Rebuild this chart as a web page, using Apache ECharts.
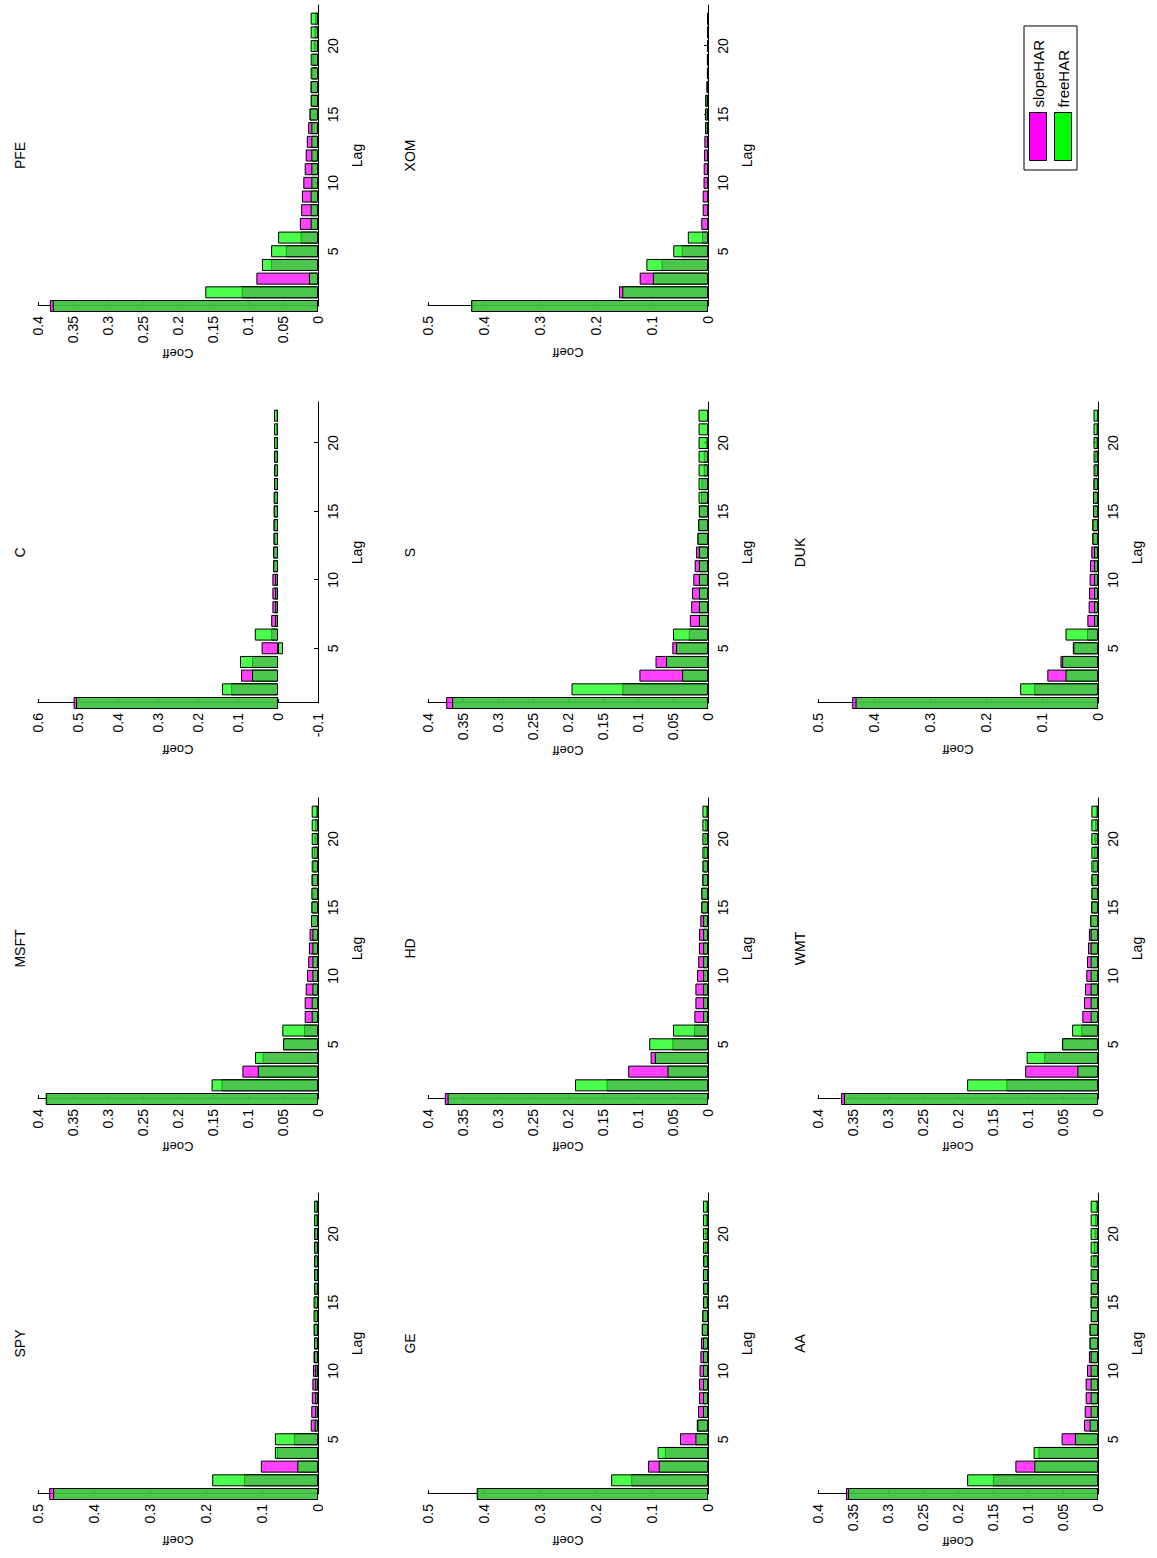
<!DOCTYPE html>
<html>
<head>
<meta charset="utf-8">
<script src="https://cdn.jsdelivr.net/npm/echarts@6/dist/echarts.min.js"></script>
<style>
html,body{margin:0;padding:0;background:#fff;overflow:hidden;width:1157px;height:1558px;}
#chart{position:absolute;left:0;top:0;width:1558px;height:1157px;transform-origin:0 0;transform:translate(0,1558px) rotate(-90deg);background:#fff;}
</style>
</head>
<body>
<div id="chart"></div>
<script>
// ---------------- data ----------------
const lagTicks = [5, 10, 15, 20];
const panelNames = ['SPY', 'MSFT', 'C', 'PFE', 'GE', 'HD', 'S', 'XOM', 'AA', 'WMT', 'DUK'];
const coeffMin  = [0, 0, -0.1, 0, 0, 0, 0, 0, 0, 0, 0];
const coeffMax  = [0.5, 0.4, 0.6, 0.4, 0.5, 0.4, 0.4, 0.5, 0.4, 0.4, 0.5];
const coeffStep = [0.1, 0.05, 0.1, 0.05, 0.1, 0.05, 0.05, 0.1, 0.05, 0.05, 0.1];

const SPY_slope  = [0.480, 0.132, 0.102, 0.073, 0.043, 0.013, 0.012, 0.011, 0.010, 0.009, 0.008, 0.007, 0.007, 0.006, 0.006, 0.006, 0.006, 0.006, 0.006, 0.006, 0.004, 0.004];
const SPY_free   = [0.473, 0.189, 0.037, 0.077, 0.077, 0.006, 0.005, 0.005, 0.005, 0.005, 0.007, 0.007, 0.008, 0.008, 0.008, 0.007, 0.007, 0.007, 0.007, 0.007, 0.007, 0.007];
const MSFT_slope = [0.388, 0.138, 0.108, 0.079, 0.0495, 0.020, 0.019, 0.019, 0.0176, 0.0157, 0.014, 0.013, 0.012, 0.010, 0.009, 0.008, 0.009, 0.007, 0.006, 0.005, 0.004, 0.003];
const MSFT_free  = [0.389, 0.152, 0.086, 0.090, 0.050, 0.051, 0.009, 0.009, 0.008, 0.008, 0.008, 0.008, 0.008, 0.010, 0.0095, 0.0095, 0.009, 0.009, 0.009, 0.009, 0.009, 0.009];
const C_slope    = [0.511, 0.117, 0.0925, 0.065, 0.041, 0.017, 0.017, 0.014, 0.014, 0.014, 0.012, 0.012, 0.011, 0.011, 0.010, 0.009, 0.009, 0.008, 0.007, 0.006, 0.005, 0.004];
const C_free     = [0.505, 0.140, 0.065, 0.095, -0.0125, 0.058, 0.007, 0.007, 0.007, 0.007, 0.012, 0.012, 0.011, 0.011, 0.011, 0.011, 0.010, 0.010, 0.010, 0.010, 0.010, 0.010];
const PFE_slope  = [0.383, 0.109, 0.088, 0.067, 0.046, 0.025, 0.026, 0.024, 0.023, 0.021, 0.019, 0.0176, 0.016, 0.014, 0.012, 0.010, 0.0105, 0.009, 0.008, 0.006, 0.005, 0.004];
const PFE_free   = [0.379, 0.161, 0.013, 0.080, 0.067, 0.057, 0.0105, 0.0105, 0.0105, 0.0095, 0.0095, 0.0095, 0.0095, 0.0095, 0.012, 0.0105, 0.0105, 0.0105, 0.0105, 0.0105, 0.0105, 0.0105];
const GE_slope   = [0.412, 0.137, 0.107, 0.077, 0.050, 0.020, 0.0178, 0.016, 0.016, 0.015, 0.0136, 0.0125, 0.011, 0.010, 0.009, 0.008, 0.009, 0.007, 0.006, 0.005, 0.004, 0.003];
const GE_free    = [0.413, 0.173, 0.088, 0.090, 0.0225, 0.019, 0.009, 0.009, 0.009, 0.009, 0.009, 0.009, 0.011, 0.010, 0.009, 0.009, 0.009, 0.009, 0.009, 0.009, 0.009, 0.009];
const HD_slope   = [0.376, 0.145, 0.114, 0.082, 0.051, 0.020, 0.0195, 0.018, 0.018, 0.0157, 0.014, 0.013, 0.0128, 0.011, 0.0095, 0.0095, 0.008, 0.007, 0.006, 0.005, 0.004, 0.003];
const HD_free    = [0.372, 0.190, 0.058, 0.076, 0.084, 0.050, 0.007, 0.007, 0.007, 0.007, 0.007, 0.007, 0.007, 0.007, 0.0095, 0.0095, 0.008, 0.008, 0.008, 0.008, 0.008, 0.008];
const S_slope    = [0.374, 0.1225, 0.098, 0.075, 0.051, 0.0275, 0.026, 0.024, 0.0228, 0.021, 0.019, 0.017, 0.015, 0.0135, 0.013, 0.010, 0.0095, 0.006, 0.006, 0.003, 0.001, 0.001];
const S_free     = [0.3655, 0.195, 0.037, 0.060, 0.0456, 0.050, 0.013, 0.013, 0.013, 0.013, 0.013, 0.013, 0.015, 0.014, 0.013, 0.0135, 0.0135, 0.0135, 0.0135, 0.0135, 0.0135, 0.0135];
const XOM_slope  = [0.422, 0.159, 0.122, 0.083, 0.047, 0.0107, 0.012, 0.0095, 0.0095, 0.008, 0.0077, 0.007, 0.0065, 0.005, 0.005, 0.004, 0.003, 0.002, 0.002, 0.001, 0.001, 0.0005];
const XOM_free   = [0.423, 0.153, 0.0985, 0.110, 0.062, 0.036, 0.001, 0.001, 0.001, 0.001, 0.001, 0.001, 0.001, 0.005, 0.005, 0.005, 0.001, 0.001, 0.001, 0.001, 0.001, 0.001];
const AA_slope   = [0.360, 0.150, 0.118, 0.085, 0.052, 0.020, 0.019, 0.0176, 0.0176, 0.0157, 0.013, 0.012, 0.012, 0.010, 0.0105, 0.010, 0.008, 0.007, 0.006, 0.005, 0.004, 0.003];
const AA_free    = [0.357, 0.187, 0.091, 0.092, 0.033, 0.012, 0.0105, 0.0105, 0.0105, 0.0105, 0.0105, 0.012, 0.012, 0.0105, 0.0105, 0.0105, 0.0105, 0.0105, 0.0105, 0.0105, 0.0105, 0.0105];
const WMT_slope  = [0.367, 0.131, 0.104, 0.077, 0.0505, 0.024, 0.0224, 0.020, 0.0186, 0.0167, 0.0157, 0.0143, 0.013, 0.011, 0.010, 0.009, 0.009, 0.007, 0.006, 0.005, 0.004, 0.003];
const WMT_free   = [0.363, 0.187, 0.0295, 0.102, 0.0515, 0.037, 0.0105, 0.0105, 0.0105, 0.0105, 0.0105, 0.0105, 0.0105, 0.011, 0.0095, 0.0095, 0.0095, 0.0095, 0.0095, 0.0095, 0.0095, 0.0095];
const DUK_slope  = [0.439, 0.114, 0.0905, 0.067, 0.045, 0.0196, 0.019, 0.0167, 0.016, 0.015, 0.0143, 0.012, 0.010, 0.010, 0.0085, 0.0085, 0.008, 0.006, 0.005, 0.004, 0.003, 0.002];
const DUK_free   = [0.433, 0.139, 0.058, 0.064, 0.044, 0.058, 0.007, 0.007, 0.007, 0.007, 0.007, 0.007, 0.010, 0.010, 0.009, 0.009, 0.008, 0.008, 0.008, 0.008, 0.008, 0.008];

const slopeSets = [SPY_slope, MSFT_slope, C_slope, PFE_slope, GE_slope, HD_slope, S_slope, XOM_slope, AA_slope, WMT_slope, DUK_slope];
const freeSets  = [SPY_free, MSFT_free, C_free, PFE_free, GE_free, HD_free, S_free, XOM_free, AA_free, WMT_free, DUK_free];

// ---------------- layout (landscape frame, rotated by CSS) ----------------
const colLeft = [64, 459, 855, 1252];
const rowTop = [38, 428, 818];
const gridW = 301, gridH = 280;
const FONT = '"Liberation Sans", Arial, Helvetica, sans-serif';

const grids = [], xAxes = [], yAxes = [], series = [], titles = [];
panelNames.forEach((name, i) => {
  const c = i % 4, r = Math.floor(i / 4);
  grids.push({ left: colLeft[c], top: rowTop[r], width: gridW, height: gridH, containLabel: false });
  titles.push({
    text: name, left: colLeft[c] + gridW / 2, top: 13, textAlign: 'center', padding: 0,
    textStyle: { fontFamily: FONT, fontSize: 14, fontWeight: 'normal', color: '#000' }
  });
  titles[titles.length - 1].top = rowTop[r] - 25;
  xAxes.push({
    gridIndex: i, type: 'value', min: 1, max: 23,
    name: 'Lag', nameLocation: 'middle', nameGap: 32,
    nameTextStyle: { fontFamily: FONT, fontSize: 14, color: '#000' },
    axisLine: { onZero: false, lineStyle: { color: '#000', width: 1 } },
    axisTick: { show: true, inside: true, length: 4, customValues: lagTicks, lineStyle: { color: '#000' } },
    axisLabel: { customValues: lagTicks, margin: 8, fontFamily: FONT, fontSize: 14, color: '#000' },
    splitLine: { show: false }
  });
  yAxes.push({
    gridIndex: i, type: 'value', min: coeffMin[i], max: coeffMax[i], interval: coeffStep[i],
    name: 'Coeff', nameLocation: 'middle', nameGap: 40,
    nameTextStyle: { fontFamily: FONT, fontSize: 13, color: '#000' },
    axisLine: { show: true, onZero: false, lineStyle: { color: '#000', width: 1 } },
    axisTick: { show: true, inside: true, length: 4, lineStyle: { color: '#000' } },
    axisLabel: { margin: 10, fontFamily: FONT, fontSize: 14, color: '#000' },
    splitLine: { show: false }
  });
  series.push({
    name: 'slopeHAR', type: 'bar', xAxisIndex: i, yAxisIndex: i, clip: true,
    barWidth: 12, barGap: '-100%',
    itemStyle: { color: 'rgba(255,0,255,0.75)', borderColor: '#000', borderWidth: 1 },
    emphasis: { disabled: true },
    data: slopeSets[i].map((v, k) => [k + 1, v])
  });
  series.push({
    name: 'freeHAR', type: 'bar', xAxisIndex: i, yAxisIndex: i, clip: true,
    barWidth: 12, barGap: '-100%',
    itemStyle: { color: 'rgba(0,255,0,0.7)', borderColor: '#000', borderWidth: 1 },
    emphasis: { disabled: true },
    data: freeSets[i].map((v, k) => [k + 1, v])
  });
});

const chart = echarts.init(document.getElementById('chart'), null, { renderer: 'svg', width: 1558, height: 1157 });
chart.setOption({
  animation: false,
  backgroundColor: '#fff',
  title: titles,
  grid: grids,
  xAxis: xAxes,
  yAxis: yAxes,
  legend: {
    orient: 'vertical', left: 1388, top: 1024,
    itemWidth: 48, itemHeight: 17, itemGap: 7,
    padding: [5, 14, 5, 9],
    borderColor: '#000', borderWidth: 1, backgroundColor: '#fff',
    icon: 'rect', selectedMode: false,
    textStyle: { fontFamily: FONT, fontSize: 15, color: '#000' },
    data: [
      { name: 'slopeHAR', itemStyle: { color: '#ff00ff', borderColor: '#000', borderWidth: 1 } },
      { name: 'freeHAR', itemStyle: { color: '#00ff00', borderColor: '#000', borderWidth: 1 } }
    ]
  },
  series: series
});
</script>
</body>
</html>
